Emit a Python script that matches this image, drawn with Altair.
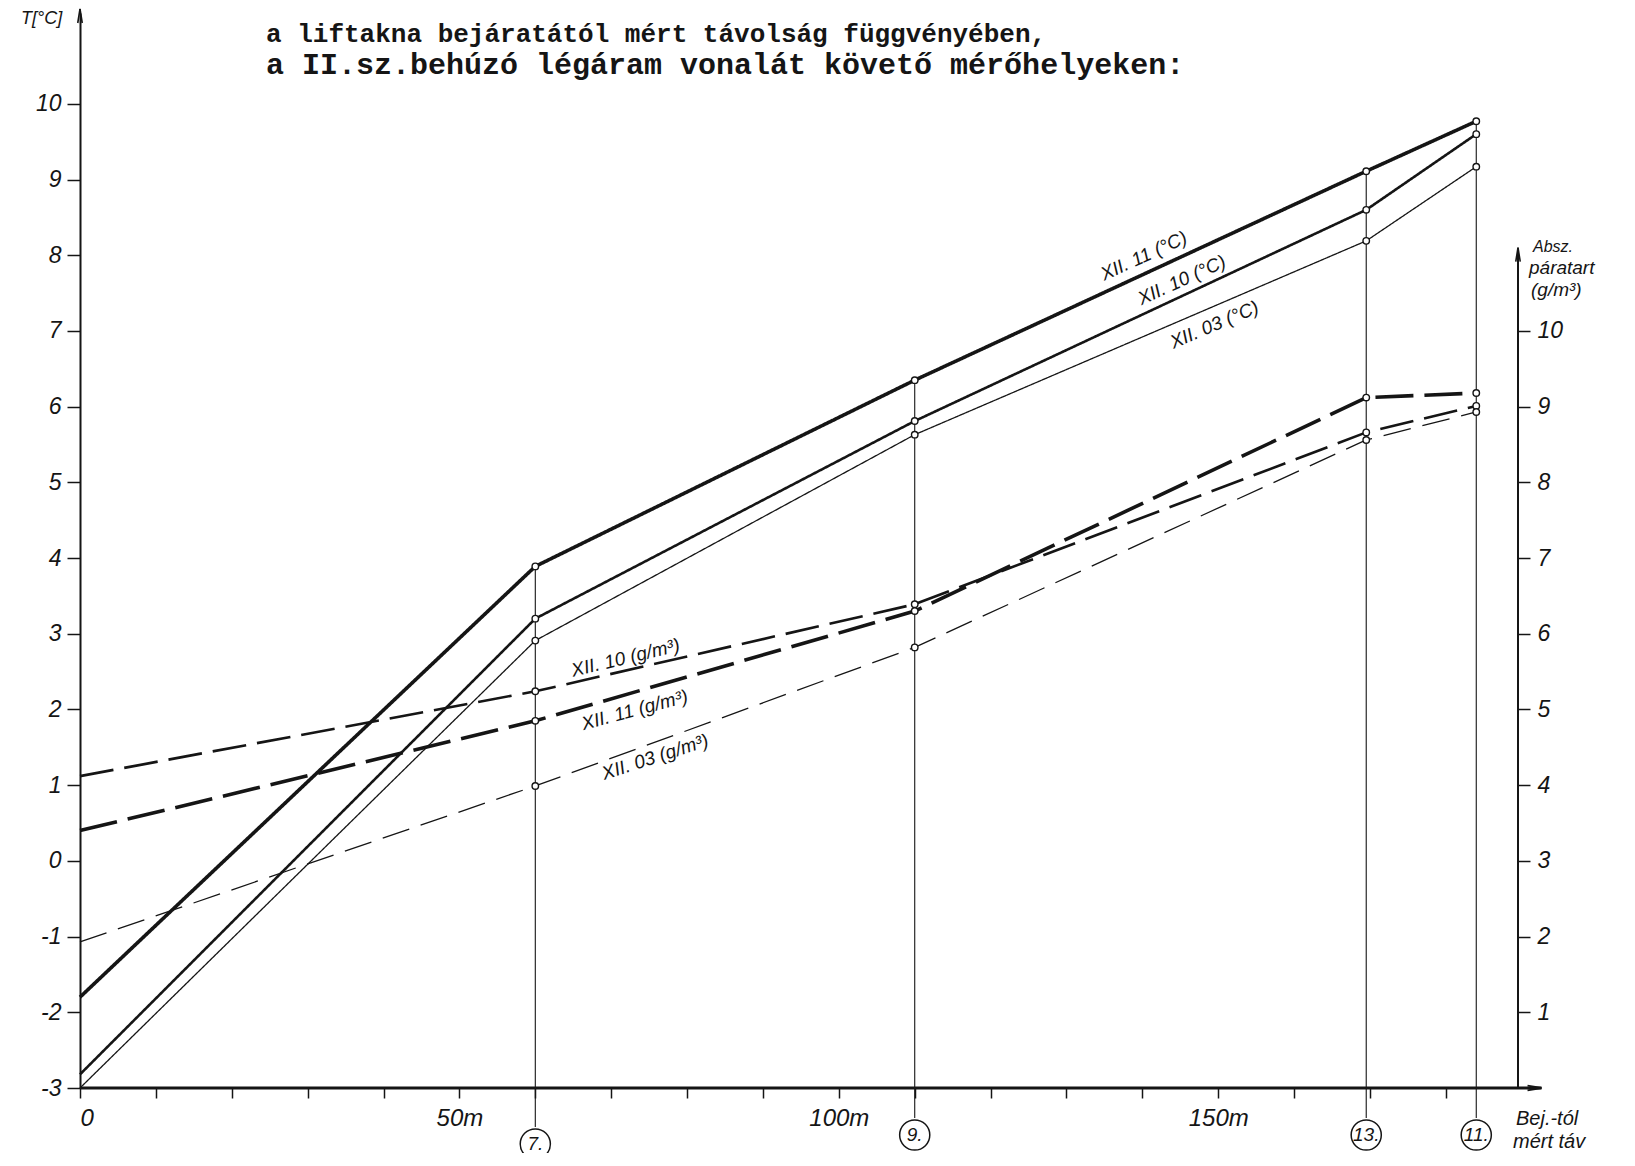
import math
import altair as alt
import pandas as pd

# ---------------- data ----------------
station_names = ["7.", "9.", "13.", "11."]
station_dist = [60, 110, 169.5, 184]          # m, measured from the shaft entrance

temp_names = ["XII.11 (°C)", "XII.10 (°C)", "XII.03 (°C)"]
temp_at_entrance = [-1.80, -2.82, -3.0]
temp_xii11 = [3.89, 6.35, 9.11, 9.77]
temp_xii10 = [3.20, 5.81, 8.60, 9.60]
temp_xii03 = [2.91, 5.63, 8.19, 9.17]

hum_names = ["XII.10 (g/m³)", "XII.11 (g/m³)", "XII.03 (g/m³)"]
hum_at_entrance = [4.12, 3.40, 1.93]
hum_xii10 = [5.24, 6.39, 8.66, 9.01]
hum_xii11 = [4.85, 6.30, 9.12, 9.18]
hum_xii03 = [3.99, 5.82, 8.56, 8.93]

left_ticks = list(range(-3, 11))
right_ticks = list(range(1, 11))
x_ticks = list(range(0, 190, 10))

title_lines = ["a liftakna bejáratától mért távolság függvényében,",
               "a II.sz.behúzó légáram vonalát követő mérőhelyeken:"]
left_title = "T[°C]"
right_title = ["Absz.", "páratart", "(g/m³)"]
x_title = ["Bej.-tól", "mért táv"]

# ---------------- layout / style ----------------
hand = "Liberation Sans"
mono = "Liberation Mono"
ink = "#151515"

W, H = 1438, 1075
Y_LO, Y_HI = -3.0, 11.2
X_MAX = 189.5
X_ARROW = 192.6
R_AXIS_TOP = 11.1
ppu = H / (Y_HI - Y_LO)
CIRCLE_R = 17
circle_offsets = [56, 47, 47, 47]   # px below the x axis

xs = alt.Scale(domain=[0, X_MAX], nice=False, zero=False)
yL = alt.Scale(domain=[Y_LO, Y_HI], nice=False, zero=False)
yR = alt.Scale(domain=[Y_LO + 3, Y_HI + 3], nice=False, zero=False)

x_axis = alt.Axis(values=x_ticks, grid=False, domain=False, ticks=True, tickSize=10,
                  tickWidth=1.5, tickColor=ink, labelAngle=0,
                  labelExpr="datum.value == 0 ? '0' : (datum.value % 50 == 0 ? datum.value + 'm' : '')",
                  labelFont=hand, labelFontStyle="italic", labelFontSize=24,
                  labelPadding=8, labelColor=ink, title=None)
left_axis = alt.Axis(orient="left", values=left_ticks, grid=False, domain=True, domainWidth=2,
                     domainColor=ink, tickSize=13, tickWidth=1.5, tickColor=ink,
                     labelExpr="'' + datum.value", labelFont=hand, labelFontStyle="italic",
                     labelFontSize=23, labelPadding=6, labelColor=ink, title=None)
right_axis = alt.Axis(orient="right", values=right_ticks, grid=False, domain=False,
                      tickSize=12, tickWidth=1.5, tickColor=ink,
                      labelFont=hand, labelFontStyle="italic", labelFontSize=23,
                      labelPadding=7, labelColor=ink, title=None)


def series_frame(names, starts, values):
    rows = []
    for name, s, vals in zip(names, starts, values):
        rows.append(dict(series=name, dist=0.0, value=s, station=False))
        for d, v in zip(station_dist, vals):
            rows.append(dict(series=name, dist=d, value=v, station=True))
    return pd.DataFrame(rows)


temp_df = series_frame(temp_names, temp_at_entrance, [temp_xii11, temp_xii10, temp_xii03])
hum_df = series_frame(hum_names, hum_at_entrance, [hum_xii10, hum_xii11, hum_xii03])

temp_style = {"XII.11 (°C)": (3.6, [1, 0]), "XII.10 (°C)": (2.6, [1, 0]),
              "XII.03 (°C)": (1.3, [1, 0])}
hum_style = {"XII.10 (g/m³)": (2.6, [34, 11]), "XII.11 (g/m³)": (3.6, [38, 11]),
             "XII.03 (g/m³)": (1.3, [28, 12])}

st_df = pd.DataFrame({"station": station_names, "dist": station_dist, "top": temp_xii11,
                      "off": circle_offsets})
st_df["bottom"] = Y_LO - (st_df["off"] - CIRCLE_R) / ppu
st_df["cy"] = Y_LO - st_df["off"] / ppu


def XL(field):
    return alt.X(field, scale=xs, axis=x_axis)


def YL(field):
    return alt.Y(field, scale=yL, axis=left_axis)


def YR(field):
    return alt.Y(field, scale=yR, axis=right_axis)


# ---------------- left (temperature) group ----------------
left_layers = []
left_layers.append(
    alt.Chart(st_df).mark_rule(color=ink, strokeWidth=1.1).encode(
        x=XL("dist:Q"), y=YL("top:Q"), y2="bottom:Q"))

for name in temp_names:
    w, dash = temp_style[name]
    left_layers.append(
        alt.Chart(temp_df[temp_df.series == name]).mark_line(
            color=ink, strokeWidth=w, strokeDash=dash).encode(
            x=XL("dist:Q"), y=YL("value:Q")))

left_layers.append(
    alt.Chart(temp_df[temp_df.station]).mark_point(
        shape="circle", filled=True, fill="white", stroke=ink, strokeWidth=1.4,
        size=42, opacity=1).encode(x=XL("dist:Q"), y=YL("value:Q")))

xline = pd.DataFrame({"x0": [0.0], "x1": [X_ARROW], "y": [Y_LO]})
left_layers.append(
    alt.Chart(xline).mark_rule(color=ink, strokeWidth=3).encode(
        x=XL("x0:Q"), x2="x1:Q", y=YL("y:Q")))
left_layers.append(
    alt.Chart(xline).mark_point(shape="M-2,-0.35L0,0L-2,0.35", size=196, filled=False,
                                color=ink, strokeWidth=1.8, opacity=1).encode(
        x=XL("x1:Q"), y=YL("y:Q")))

one = pd.DataFrame({"a": [0]})
left_layers.append(
    alt.Chart(one).mark_rule(color=ink, strokeWidth=2).encode(
        x=alt.value(0), y=alt.value(-4), y2=alt.value(0)))
left_layers.append(
    alt.Chart(one).mark_point(shape="M-0.32,2L0,0L0.32,2", size=196, filled=False,
                              color=ink, strokeWidth=1.6, opacity=1).encode(
        x=alt.value(0), y=alt.value(-4)))

left_layers.append(
    alt.Chart(st_df).mark_point(shape="circle", size=math.pi * CIRCLE_R ** 2, filled=False,
                                color=ink, strokeWidth=1.5, opacity=1).encode(
        x=XL("dist:Q"), y=YL("cy:Q")))
left_layers.append(
    alt.Chart(st_df).mark_text(font=hand, fontStyle="italic", fontSize=19, color=ink,
                               align="center", baseline="middle").encode(
        x=XL("dist:Q"), y=YL("cy:Q"), text="station:N"))

temp_lab = pd.DataFrame({"t": ["XII. 11 (°C)", "XII. 10 (°C)", "XII. 03 (°C)"],
                         "x": [140.2, 145.2, 149.5],
                         "y": [7.99, 7.67, 7.08], "ang": [335.5, 335.5, 337.0]})
left_layers.append(
    alt.Chart(temp_lab).mark_text(font=hand, fontStyle="italic", fontSize=19, color=ink,
                                  align="center", baseline="middle").encode(
        x=XL("x:Q"), y=YL("y:Q"), text="t:N", angle=alt.Angle("ang:Q", scale=None)))


def free_text(txt, x, y, size, font=hand, style="italic", weight="normal", align="left"):
    return alt.Chart(pd.DataFrame({"t": [txt]})).mark_text(
        font=font, fontStyle=style, fontWeight=weight, fontSize=size, color=ink,
        align=align, baseline="middle").encode(x=alt.value(x), y=alt.value(y), text="t:N")


left_layers.append(free_text(title_lines[0], 186, 21, 26, font=mono, style="normal", weight="bold"))
left_layers.append(free_text(title_lines[1], 186, 52, 30, font=mono, style="normal", weight="bold"))
left_layers.append(free_text(left_title, -59, 6, 18))
left_layers.append(free_text(right_title[0], 1453, 234, 16))
left_layers.append(free_text(right_title[1], 1449, 255, 19))
left_layers.append(free_text(right_title[2], 1451, 277, 19))
left_layers.append(free_text(x_title[0], 1436, 1106, 20))
left_layers.append(free_text(x_title[1], 1433, 1129, 20))

left_group = alt.layer(*left_layers)

# ---------------- right (humidity) group ----------------
right_layers = []
raxis = pd.DataFrame({"x": [X_MAX], "y0": [0.0], "y1": [R_AXIS_TOP]})
right_layers.append(
    alt.Chart(raxis).mark_rule(color=ink, strokeWidth=2).encode(
        x=XL("x:Q"), y=YR("y0:Q"), y2="y1:Q"))
right_layers.append(
    alt.Chart(raxis).mark_point(shape="M-0.32,2L0,0L0.32,2", size=196, filled=False,
                                color=ink, strokeWidth=1.6, opacity=1).encode(
        x=XL("x:Q"), y=YR("y1:Q")))

for name in hum_names:
    w, dash = hum_style[name]
    right_layers.append(
        alt.Chart(hum_df[hum_df.series == name]).mark_line(
            color=ink, strokeWidth=w, strokeDash=dash).encode(
            x=XL("dist:Q"), y=YR("value:Q")))

right_layers.append(
    alt.Chart(hum_df[hum_df.station]).mark_point(
        shape="circle", filled=True, fill="white", stroke=ink, strokeWidth=1.4,
        size=42, opacity=1).encode(x=XL("dist:Q"), y=YR("value:Q")))

hum_lab = pd.DataFrame({"t": ["XII. 10 (g/m³)", "XII. 11 (g/m³)", "XII. 03 (g/m³)"],
                        "x": [71.9, 73.1, 75.8],
                        "y": [5.68, 4.99, 4.37], "ang": [346.5, 345.0, 342.0]})
right_layers.append(
    alt.Chart(hum_lab).mark_text(font=hand, fontStyle="italic", fontSize=19, color=ink,
                                 align="center", baseline="middle").encode(
        x=XL("x:Q"), y=YR("y:Q"), text="t:N", angle=alt.Angle("ang:Q", scale=None)))

right_group = alt.layer(*right_layers)

chart = alt.layer(left_group, right_group).resolve_scale(y="independent").properties(
    width=W, height=H,
    padding={"left": 72, "top": 5, "right": 105, "bottom": 65},
    autosize=alt.AutoSizeParams(type="none"),
    background="white",
).configure_view(stroke=None)

chart.save("out.html", embed_options={"renderer": "svg", "actions": False})
